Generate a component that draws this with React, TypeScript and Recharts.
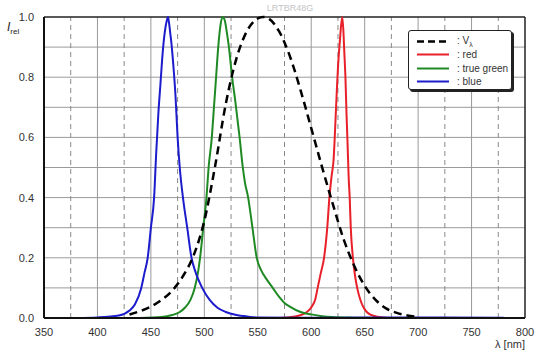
import React from 'react';
import { LineChart, Line, XAxis, YAxis, ReferenceLine } from 'recharts';

// relative spectral emission
const vLambda = [
  { x: 430, y: 0.0116 }, { x: 440, y: 0.023 }, { x: 450, y: 0.038 }, { x: 460, y: 0.06 },
  { x: 470, y: 0.091 }, { x: 480, y: 0.139 }, { x: 490, y: 0.208 }, { x: 500, y: 0.323 },
  { x: 510, y: 0.503 }, { x: 520, y: 0.71 }, { x: 530, y: 0.862 }, { x: 540, y: 0.954 },
  { x: 550, y: 0.995 }, { x: 555, y: 1.0 }, { x: 560, y: 0.995 }, { x: 570, y: 0.952 },
  { x: 580, y: 0.87 }, { x: 590, y: 0.757 }, { x: 600, y: 0.631 }, { x: 610, y: 0.503 },
  { x: 620, y: 0.381 }, { x: 630, y: 0.265 }, { x: 640, y: 0.175 }, { x: 650, y: 0.107 },
  { x: 660, y: 0.061 }, { x: 670, y: 0.032 }, { x: 680, y: 0.017 }, { x: 690, y: 0.0082 },
  { x: 700, y: 0.0041 },
];

const red = [
  { x: 420, y: 0 }, { x: 570, y: 0 }, { x: 585, y: 0.005 }, { x: 592, y: 0.012 },
  { x: 596, y: 0.02 }, { x: 600, y: 0.035 }, { x: 604, y: 0.065 }, { x: 606, y: 0.1 },
  { x: 609, y: 0.15 }, { x: 612, y: 0.2 }, { x: 615, y: 0.3 }, { x: 617, y: 0.4 },
  { x: 619, y: 0.47 }, { x: 621, y: 0.53 }, { x: 622, y: 0.6 }, { x: 624, y: 0.76 },
  { x: 625, y: 0.83 }, { x: 627, y: 0.93 }, { x: 629, y: 1.0 }, { x: 630, y: 0.96 },
  { x: 631, y: 0.88 }, { x: 632, y: 0.8 }, { x: 633, y: 0.68 }, { x: 634, y: 0.58 },
  { x: 635, y: 0.47 }, { x: 636, y: 0.4 }, { x: 637, y: 0.3 }, { x: 639, y: 0.2 },
  { x: 641, y: 0.14 }, { x: 643, y: 0.1 }, { x: 646, y: 0.06 }, { x: 649, y: 0.035 },
  { x: 652, y: 0.02 }, { x: 656, y: 0.01 }, { x: 662, y: 0.004 }, { x: 670, y: 0.001 },
  { x: 680, y: 0 },
];

const trueGreen = [
  { x: 440, y: 0 }, { x: 460, y: 0.003 }, { x: 470, y: 0.01 }, { x: 477, y: 0.02 },
  { x: 482, y: 0.035 }, { x: 487, y: 0.06 }, { x: 491, y: 0.1 }, { x: 494, y: 0.15 },
  { x: 496, y: 0.2 }, { x: 499, y: 0.3 }, { x: 502, y: 0.4 }, { x: 504, y: 0.5 },
  { x: 507, y: 0.6 }, { x: 509, y: 0.7 }, { x: 511, y: 0.8 }, { x: 513, y: 0.9 },
  { x: 515, y: 0.97 }, { x: 517, y: 1.0 }, { x: 519, y: 0.99 }, { x: 521, y: 0.95 },
  { x: 523, y: 0.9 }, { x: 526, y: 0.8 }, { x: 529, y: 0.72 }, { x: 531, y: 0.66 },
  { x: 533, y: 0.6 }, { x: 536, y: 0.5 }, { x: 538, y: 0.45 }, { x: 541, y: 0.4 },
  { x: 545, y: 0.3 }, { x: 549, y: 0.2 }, { x: 553, y: 0.16 }, { x: 558, y: 0.13 },
  { x: 564, y: 0.1 }, { x: 570, y: 0.07 }, { x: 575, y: 0.05 }, { x: 580, y: 0.038 },
  { x: 590, y: 0.02 }, { x: 600, y: 0.012 }, { x: 610, y: 0.006 }, { x: 620, y: 0.003 },
  { x: 640, y: 0.001 }, { x: 660, y: 0 },
];

const blue = [
  { x: 380, y: 0 }, { x: 400, y: 0.002 }, { x: 410, y: 0.004 }, { x: 420, y: 0.008 },
  { x: 430, y: 0.025 }, { x: 435, y: 0.045 }, { x: 441, y: 0.1 }, { x: 444, y: 0.15 },
  { x: 447, y: 0.2 }, { x: 450, y: 0.3 }, { x: 453, y: 0.4 }, { x: 455, y: 0.55 },
  { x: 457, y: 0.68 }, { x: 459, y: 0.78 }, { x: 461, y: 0.88 }, { x: 463, y: 0.95 },
  { x: 465, y: 0.99 }, { x: 466, y: 1.0 }, { x: 467, y: 0.98 }, { x: 468, y: 0.95 },
  { x: 469, y: 0.92 }, { x: 471, y: 0.84 }, { x: 473, y: 0.74 }, { x: 475, y: 0.6 },
  { x: 477, y: 0.5 }, { x: 480, y: 0.4 }, { x: 484, y: 0.3 }, { x: 488, y: 0.2 },
  { x: 492, y: 0.15 }, { x: 498, y: 0.1 }, { x: 505, y: 0.06 }, { x: 512, y: 0.035 },
  { x: 520, y: 0.02 }, { x: 530, y: 0.01 }, { x: 540, y: 0.005 }, { x: 550, y: 0.002 },
  { x: 600, y: 0.001 }, { x: 700, y: 0.002 }, { x: 780, y: 0.001 },
];

const xTicks = [350, 400, 450, 500, 550, 600, 650, 700, 750, 800];
const xDashed = [375, 425, 475, 525, 575, 625, 675, 725, 775];
const yTicks = [0, 0.2, 0.4, 0.6, 0.8, 1.0];
const yGrid = [0.1, 0.2, 0.3, 0.4, 0.5, 0.6, 0.7, 0.8, 0.9];

const legendItems = [
  { label: 'V', sub: 'λ', color: '#000', dash: '7 4', width: 2.5 },
  { label: 'red', color: '#e8202a', width: 2 },
  { label: 'true green', color: '#1f8a24', width: 2 },
  { label: 'blue', color: '#1c1ccc', width: 2 },
];

const font = '"Liberation Sans", Arial, sans-serif';

const App: React.FC = () => {
  return (
    <div style={{ position: 'absolute', left: 0, top: 0, width: 555, height: 358, background: '#fff', fontFamily: font }}>
      <LineChart width={555} height={358} margin={{ top: 17, right: 30, bottom: 10, left: 0 }}>
        <XAxis
          type="number"
          dataKey="x"
          domain={[350, 800]}
          ticks={xTicks}
          interval={0}
          allowDuplicatedCategory={false}
          height={30}
          tickLine={false}
          axisLine={{ stroke: '#111', strokeWidth: 2 }}
          tick={{ fill: '#333', fontSize: 11, fontFamily: font }}
          tickMargin={4}
        />
        <YAxis
          type="number"
          domain={[0, 1]}
          ticks={yTicks}
          interval={0}
          width={44}
          tickLine={false}
          axisLine={{ stroke: '#111', strokeWidth: 2 }}
          tick={{ fill: '#333', fontSize: 11, fontFamily: font }}
          tickFormatter={(v: number) => v.toFixed(1)}
          tickMargin={4}
        />
        {yGrid.map((v) => (
          <ReferenceLine key={'h' + v} y={v} stroke="#9a9a9a" strokeWidth={1} />
        ))}
        {xTicks.slice(1, -1).map((v) => (
          <ReferenceLine key={'v' + v} x={v} stroke="#9a9a9a" strokeWidth={1} />
        ))}
        {xDashed.map((v) => (
          <ReferenceLine key={'d' + v} x={v} stroke="#8a8a8a" strokeWidth={1} strokeDasharray="5 4" />
        ))}
        <ReferenceLine y={1} stroke="#222" strokeWidth={1.5} />
        <ReferenceLine x={800} stroke="#222" strokeWidth={1.5} />
        <Line data={red} dataKey="y" type="monotone" stroke="#e8202a" strokeWidth={2} dot={false} isAnimationActive={false} />
        <Line data={trueGreen} dataKey="y" type="monotone" stroke="#1f8a24" strokeWidth={2} dot={false} isAnimationActive={false} />
        <Line data={blue} dataKey="y" type="monotone" stroke="#1c1ccc" strokeWidth={2} dot={false} isAnimationActive={false} />
        <Line data={vLambda} dataKey="y" type="monotone" stroke="#000" strokeWidth={2.5} strokeDasharray="8 5" dot={false} isAnimationActive={false} />
      </LineChart>

      <div style={{ position: 'absolute', left: 245, top: 3, width: 90, textAlign: 'center', fontSize: 9, color: '#c4c4c4' }}>
        LRTBR48G
      </div>
      <div style={{ position: 'absolute', left: 7, top: 21, fontSize: 12, lineHeight: '12px', color: '#222', whiteSpace: 'nowrap' }}>
        <i>I</i>
        <span style={{ fontSize: 8, position: 'relative', top: 3 }}>rel</span>
      </div>
      <div style={{ position: 'absolute', right: 30, top: 338, fontSize: 11, color: '#333' }}>
        λ [nm]
      </div>

      <div
        style={{
          position: 'absolute',
          left: 408,
          top: 30,
          width: 102,
          height: 58,
          background: '#fff',
          border: '1px solid #222',
          borderRadius: 3,
          boxShadow: '2px 2px 0 #222',
          fontSize: 10,
          color: '#333',
        }}
      >
        {legendItems.map((it, i) => (
          <div key={it.label} style={{ position: 'absolute', left: 0, top: 4 + i * 13.4, height: 13, display: 'flex', alignItems: 'center' }}>
            <svg width={48} height={13} style={{ display: 'block' }}>
              <line x1={8} x2={40} y1={6.5} y2={6.5} stroke={it.color} strokeWidth={it.width} strokeDasharray={it.dash} />
            </svg>
            <span style={{ whiteSpace: 'nowrap' }}>
              : {it.label}
              {it.sub ? <sub style={{ fontSize: 7 }}>{it.sub}</sub> : null}
            </span>
          </div>
        ))}
      </div>
    </div>
  );
};

export default App;
